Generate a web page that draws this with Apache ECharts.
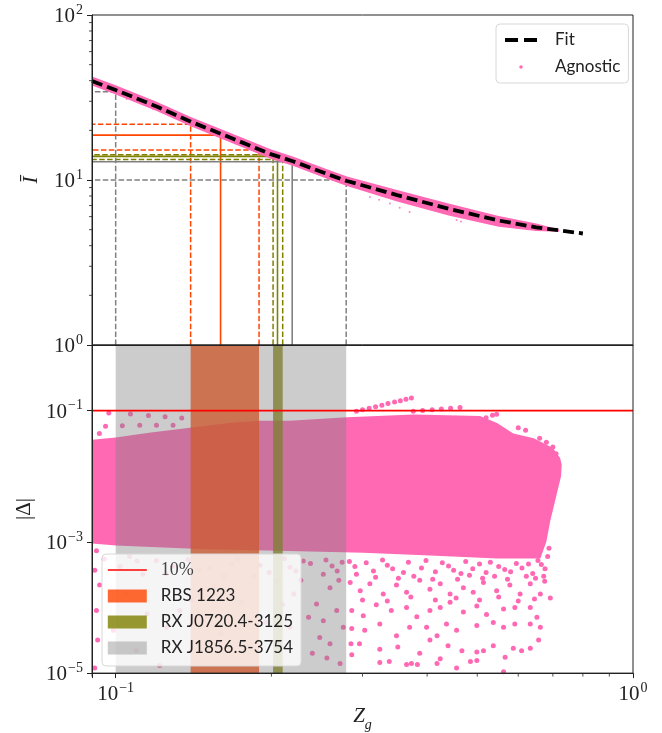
<!DOCTYPE html>
<html>
<head>
<meta charset="utf-8">
<script src="https://cdn.jsdelivr.net/npm/echarts@6/dist/echarts.min.js"></script>
<style>
  html, body { margin: 0; padding: 0; background: #fff; }
  #chart { width: 662px; height: 733px; }
</style>
</head>
<body>
<div id="chart"></div>
<script>
// Axis ranges
const zMin = 0.09, zMax = 1;
const iMin = 1, iMax = 100;
const dMin = 1e-5, dMax = 1;

// Fit curve (top panel)
const fitZ = [0.09, 0.1, 0.12, 0.14, 0.16, 0.2, 0.22, 0.26, 0.28, 0.35, 0.44, 0.55, 0.65, 0.72, 0.8];
const fitI = [39.8, 35.1, 27.9, 22.5, 19.0, 14.3, 13.0, 10.7, 9.86, 8.1, 6.7, 5.68, 5.17, 4.95, 4.74];

// Agnostic points around the fit (top panel): band edges + strays
const agnZ = [0.09, 0.1, 0.12, 0.14, 0.16, 0.2, 0.22, 0.26, 0.28, 0.35, 0.44, 0.55, 0.65, 0.72];
const agnUpper = [42.4, 37.5, 29.8, 24.0, 20.3, 15.3, 13.9, 11.4, 10.5, 8.7, 7.2, 6.05, 5.45, 5.02];
const agnLower = [37.4, 33.0, 26.2, 21.1, 17.8, 13.4, 12.2, 10.0, 9.2, 7.4, 6.1, 5.2, 4.9, 4.85];
const agnStray = [[0.105, 31.0], [0.118, 27.0], [0.31, 7.9], [0.323, 7.6], [0.339, 7.2], [0.354, 6.8],
  [0.37, 6.4], [0.456, 5.72], [0.465, 5.6]];

// Stars: [lower, central, upper] Zg and the matching I
const rbsZ = [0.1396, 0.1595, 0.1893];
const rbsI = [21.8, 18.7, 15.2];
const rx0720Z = [0.2015, 0.2055, 0.2103];
const rx0720I = [14.2, 13.9, 13.3];
const rx1856Z = [0.1, 0.2194, 0.279];
const rx1856I = [34.3, 12.9, 10.0];

// |Delta| cloud (bottom panel): dense outline + scattered points
const cloudTopZ = [0.0901, 0.1, 0.116, 0.139, 0.166, 0.19, 0.217, 0.28, 0.3765, 0.506, 0.546, 0.587, 0.643, 0.70, 0.723, 0.728];
const cloudTopD = [0.036, 0.039, 0.046, 0.055, 0.065, 0.07, 0.07, 0.079, 0.087, 0.083, 0.065, 0.045, 0.038, 0.027, 0.019, 0.015];
const cloudBottomZ = [0.726, 0.717, 0.706, 0.692, 0.68, 0.662, 0.546, 0.405, 0.301, 0.227, 0.145, 0.1, 0.0901];
const cloudBottomD = [0.01, 0.0067, 0.004, 0.0021, 0.001, 5.6e-4, 5.6e-4, 6.2e-4, 6.8e-4, 7.2e-4, 7.8e-4, 8.8e-4, 9.4e-4];
const cloudStray = [
  // above the dense part
  [0.097, 0.092], [0.0956, 0.058], [0.1068, 0.089], [0.1157, 0.084], [0.1246, 0.081], [0.1342, 0.077],
  [0.1113, 0.06], [0.1199, 0.06], [0.1291, 0.06], [0.103, 0.059], [0.093, 0.045],
  [0.292, 0.098], [0.3, 0.103], [0.309, 0.109], [0.318, 0.115], [0.327, 0.121], [0.336, 0.128],
  [0.346, 0.135], [0.355, 0.142], [0.364, 0.149], [0.373, 0.156],
  [0.376, 0.098], [0.392, 0.1], [0.409, 0.103], [0.426, 0.106], [0.444, 0.109], [0.463, 0.112],
  [0.52, 0.078], [0.535, 0.085], [0.545, 0.088], [0.6, 0.055], [0.62, 0.05], [0.66, 0.038],
  [0.68, 0.033], [0.7, 0.028], [0.71, 0.022],
  // ragged lower edge of the dense part
  [0.283, 5.0e-4], [0.292, 3.2e-4], [0.305, 4.8e-4], [0.318, 2.9e-4], [0.328, 5.3e-4], [0.343, 3.9e-4],
  [0.352, 2.8e-4], [0.368, 4.9e-4], [0.377, 3.0e-4], [0.398, 5.2e-4], [0.41, 2.7e-4], [0.428, 4.8e-4],
  [0.45, 3.7e-4], [0.458, 2.7e-4], [0.475, 5.0e-4], [0.483, 3.1e-4], [0.505, 4.6e-4], [0.512, 2.8e-4],
  [0.53, 4.9e-4], [0.54, 3.0e-4], [0.565, 3.8e-4], [0.572, 2.7e-4], [0.595, 4.7e-4], [0.622, 3.0e-4],
  [0.628, 4.6e-4], [0.648, 2.8e-4], [0.655, 5.2e-4], [0.676, 3.9e-4], [0.684, 6.0e-4], [0.688, 8.0e-4],
  [0.095, 5.5e-4], [0.102, 4.2e-4], [0.11, 5.1e-4], [0.125, 3.3e-4], [0.138, 5.4e-4], [0.152, 4.0e-4],
  [0.162, 3.0e-4], [0.172, 5.5e-4], [0.19, 4.4e-4], [0.198, 3.4e-4], [0.212, 5.6e-4], [0.223, 3.6e-4],
  [0.238, 4.7e-4], [0.255, 5.3e-4], [0.268, 3.6e-4], [0.274, 4.9e-4],
  [0.29, 4.2e-4], [0.315, 3.6e-4], [0.335, 4.4e-4], [0.36, 3.4e-4], [0.39, 4.0e-4], [0.415, 3.5e-4],
  [0.44, 4.3e-4], [0.465, 3.3e-4], [0.49, 3.9e-4], [0.52, 3.4e-4], [0.55, 4.2e-4], [0.58, 3.5e-4],
  [0.61, 4.0e-4], [0.64, 3.3e-4], [0.665, 4.5e-4], [0.672, 3.0e-4],
  // sparse tail
  [0.284, 2.4e-4], [0.297, 1.8e-4], [0.31, 2.3e-4], [0.329, 1.6e-4], [0.349, 2.2e-4], [0.365, 1.7e-4],
  [0.387, 2.6e-4], [0.405, 1.9e-4], [0.424, 2.3e-4], [0.443, 1.6e-4], [0.47, 2.0e-4], [0.491, 1.7e-4],
  [0.514, 2.4e-4], [0.545, 1.8e-4], [0.578, 2.2e-4], [0.605, 1.6e-4], [0.633, 2.3e-4], [0.662, 1.6e-4],
  [0.3, 1.3e-4], [0.335, 1.25e-4], [0.372, 1.45e-4], [0.415, 1.3e-4], [0.455, 1.4e-4], [0.505, 1.3e-4],
  [0.55, 1.45e-4], [0.6, 1.25e-4], [0.645, 1.35e-4], [0.675, 2.5e-4],
  [0.286, 9.0e-5], [0.301, 7.5e-5], [0.319, 1.1e-4], [0.341, 9.0e-5], [0.365, 1.0e-4], [0.382, 7.2e-5],
  [0.405, 9.0e-5], [0.424, 1.0e-4], [0.443, 1.2e-4], [0.47, 8.5e-5], [0.499, 1.05e-4], [0.521, 7.8e-5],
  [0.562, 9.5e-5], [0.591, 1.0e-4], [0.633, 1.0e-4], [0.652, 7.1e-5], [0.692, 1.4e-4],
  [0.286, 4.8e-5], [0.303, 4.5e-5], [0.324, 5.6e-5], [0.349, 3.7e-5], [0.37, 5.0e-5], [0.399, 5.0e-5],
  [0.418, 3.7e-5], [0.436, 5.6e-5], [0.456, 4.5e-5], [0.499, 5.3e-5], [0.537, 5.9e-5], [0.562, 5.0e-5],
  [0.591, 5.6e-5], [0.633, 5.6e-5], [0.662, 5.0e-5], [0.657, 3.2e-5],
  [0.285, 2.8e-5], [0.296, 2.8e-5], [0.324, 2.3e-5], [0.351, 2.5e-5], [0.387, 2.0e-5], [0.405, 3.2e-5],
  [0.439, 2.6e-5], [0.467, 2.2e-5], [0.499, 2.1e-5], [0.514, 2.2e-5], [0.537, 2.6e-5], [0.566, 1.75e-5],
  [0.587, 2.4e-5], [0.609, 2.2e-5], [0.633, 2.4e-5],
  [0.286, 1.9e-5], [0.324, 1.45e-5], [0.338, 1.5e-5], [0.365, 1.35e-5], [0.373, 1.4e-5], [0.383, 1.35e-5],
  [0.418, 1.4e-5], [0.424, 1.65e-5], [0.456, 1.2e-5], [0.485, 1.5e-5], [0.499, 1.55e-5], [0.562, 1.05e-5],
  // inside the gray band, right of the olive one
  [0.2172, 4.1e-4], [0.2304, 5.1e-4], [0.252, 3.2e-4], [0.2596, 2.0e-4], [0.2445, 1.13e-4], [0.236, 7.1e-5],
  [0.252, 6.3e-5], [0.2675, 9.0e-5], [0.2754, 5.0e-5], [0.248, 3.5e-5], [0.2596, 2.8e-5], [0.24, 2.0e-5],
  [0.256, 1.7e-5], [0.221, 1.6e-4], [0.2172, 5.0e-5], [0.2715, 1.4e-5], [0.262, 4.3e-4], [0.27, 2.6e-4],
  [0.228, 2.6e-4],
  // left part, mostly under the legend
  [0.0918, 7.3e-4], [0.0911, 3.7e-4], [0.0931, 2.2e-4], [0.0918, 9.0e-5], [0.0923, 3.2e-5], [0.0911, 1.2e-5],
  [0.1064, 6.0e-4], [0.1199, 5.2e-4], [0.1129, 3.2e-4], [0.129, 4.3e-4], [0.1049, 1.6e-4], [0.133, 9.0e-5],
  [0.1254, 5.0e-5], [0.1096, 2.2e-5], [0.1216, 1.3e-5], [0.145, 3.8e-4], [0.155, 2.1e-4], [0.168, 4.6e-4],
  [0.175, 1.2e-4], [0.185, 3.0e-4], [0.195, 6.0e-5], [0.16, 4.0e-5], [0.205, 2.5e-4], [0.21, 1.1e-4],
  [0.14, 1.3e-4], [0.178, 2.5e-5], [0.115, 8.0e-5], [0.099, 4.5e-5]
];
const tenPercent = 0.1;

// Minor log ticks (matplotlib style)
const minorZ = [0.09, 0.2, 0.3, 0.4, 0.5, 0.6, 0.7, 0.8, 0.9];
const minorI = [2, 3, 4, 5, 6, 7, 8, 9, 20, 30, 40, 50, 60, 70, 80, 90];

const pink = '#ff69b4';
const orange = '#ff4500', olive = '#808000', gray = '#808080';
const serif = "'Liberation Serif', 'DejaVu Serif', serif";
const sans = "Lato, 'DejaVu Sans', sans-serif";
const ink = '#222';

const chart = echarts.init(document.getElementById('chart'));

function powLabel(skipZero) {
  return function (v) {
    const e = Math.log10(v);
    const n = Math.round(e);
    if (Math.abs(e - n) > 1e-6) return '';
    if (skipZero && n === 0) return '';
    return '{b|10}{s|' + (n < 0 ? '\u2212' + (-n) : n) + '}';
  };
}
const powRich = {
  b: { fontFamily: serif, fontSize: 21, color: ink, lineHeight: 24, verticalAlign: 'bottom' },
  s: { fontFamily: serif, fontSize: 14, color: ink, lineHeight: 24, verticalAlign: 'top', padding: [0, 0, 0, 1] }
};

// polygon between two outlines, drawn once
function outlineItem(zA, yA, zB, yB) {
  return function (params, api) {
    if (params.dataIndex !== 0) return null;
    const pts = [];
    zA.forEach((z, i) => pts.push(api.coord([z, yA[i]])));
    zB.forEach((z, i) => pts.push(api.coord([z, yB[i]])));
    return { type: 'polygon', shape: { points: pts }, style: { fill: pink } };
  };
}

function bandSeries(name, zs, color, z) {
  return {
    name: name, type: 'custom', xAxisIndex: 1, yAxisIndex: 1, z: z, clip: true,
    itemStyle: { color: color },
    encode: { x: [0, 1], y: [2, 3] },
    data: [[zs[0], zs[2], dMin, dMax]],
    renderItem: function (params, api) {
      const lo = api.coord([api.value(0), api.value(2)]);
      const hi = api.coord([api.value(1), api.value(3)]);
      return { type: 'rect', shape: { x: lo[0], y: hi[1], width: hi[0] - lo[0], height: lo[1] - hi[1] },
        style: { fill: color } };
    }
  };
}

// L-shaped guide lines from the axes to the curve
const guideSeries = [];
[[rbsZ, rbsI, orange], [rx0720Z, rx0720I, olive], [rx1856Z, rx1856I, gray]].forEach(([zs, is, color]) => {
  zs.forEach((zv, k) => {
    guideSeries.push({
      type: 'line', xAxisIndex: 0, yAxisIndex: 0, symbol: 'none', z: 3,
      lineStyle: { color: color, width: k === 1 ? 1.6 : 1.5, type: k === 1 ? 'solid' : [5.5, 2.4] },
      data: [[zv, iMin], [zv, is[k]], [zMin, is[k]]]
    });
  });
});

const option = {
  animation: false,
  grid: [
    { left: 92, right: 29, top: 15, height: 330, show: true, borderColor: ink, borderWidth: 1, z: 10 },
    { left: 92, right: 29, top: 345, height: 329, show: true, borderColor: ink, borderWidth: 1, z: 10 }
  ],
  xAxis: [
    { type: 'log', gridIndex: 0, min: zMin, max: zMax, z: 10,
      axisLine: { show: true, lineStyle: { color: ink } }, axisTick: { show: false },
      axisLabel: { show: false }, splitLine: { show: false } },
    { type: 'log', gridIndex: 1, min: zMin, max: zMax, z: 10,
      axisLine: { show: true, lineStyle: { color: ink } },
      axisTick: { length: 5, lineStyle: { color: ink } },
      axisLabel: { formatter: powLabel(false), rich: powRich, margin: 8 },
      splitLine: { show: false },
      name: '{z|Z}{g|g}', nameLocation: 'middle', nameGap: 32,
      nameTextStyle: { rich: {
        z: { fontFamily: serif, fontStyle: 'italic', fontSize: 21, color: ink, lineHeight: 26, verticalAlign: 'top' },
        g: { fontFamily: serif, fontStyle: 'italic', fontSize: 14, color: ink, lineHeight: 26, verticalAlign: 'bottom' }
      } } }
  ],
  yAxis: [
    { type: 'log', gridIndex: 0, min: iMin, max: iMax, z: 10,
      axisLine: { show: true, lineStyle: { color: ink } },
      axisTick: { length: 5, lineStyle: { color: ink } },
      axisLabel: { formatter: powLabel(false), rich: powRich, margin: 9 },
      splitLine: { show: false },
      name: '\u012A', nameLocation: 'middle', nameGap: 50, nameRotate: 90,
      nameTextStyle: { fontFamily: serif, fontStyle: 'italic', fontSize: 21, color: ink } },
    { type: 'log', gridIndex: 1, min: dMin, max: dMax, interval: 2, z: 10,
      axisLine: { show: true, lineStyle: { color: ink } },
      axisTick: { length: 5, lineStyle: { color: ink } },
      axisLabel: { formatter: powLabel(true), rich: powRich, margin: 9 },
      splitLine: { show: false },
      name: '|\u0394|', nameLocation: 'middle', nameGap: 54, nameRotate: 90,
      nameTextStyle: { fontFamily: serif, fontSize: 21, color: ink } }
  ],
  legend: [
    { z: 20, orient: 'vertical', left: 496, top: 24, padding: [6, 8, 6, 7],
      itemWidth: 32, itemHeight: 3.5, itemGap: 7,
      backgroundColor: 'rgba(255,255,255,0.8)', borderColor: '#d8d8d8', borderWidth: 1, borderRadius: 4,
      textStyle: { fontFamily: sans, fontSize: 17, color: ink, lineHeight: 20, padding: [0, 0, 0, 13] },
      data: [
        { name: 'Fit', itemStyle: { opacity: 0 }, lineStyle: { color: '#000', width: 4, type: [13, 6] } },
        { name: 'Agnostic', icon: 'circle', itemStyle: { color: pink } }
      ] },
    { z: 20, orient: 'vertical', left: 102, top: 554, padding: [6, 8, 8, 5],
      itemWidth: 39, itemHeight: 13, itemGap: 6,
      backgroundColor: 'rgba(255,255,255,0.8)', borderColor: '#d8d8d8', borderWidth: 1, borderRadius: 4,
      textStyle: { fontFamily: sans, fontSize: 17, color: ink, lineHeight: 20, padding: [0, 0, 0, 9],
        rich: { serif: { fontFamily: serif, fontSize: 18, color: '#444', lineHeight: 20 } } },
      formatter: name => name === '10%' ? '{serif|10%}' : name,
      data: [
        { name: '10%', itemStyle: { opacity: 0 }, lineStyle: { color: '#ff0000', width: 1.6 } },
        { name: 'RBS 1223', icon: 'rect' },
        { name: 'RX J0720.4-3125', icon: 'rect' },
        { name: 'RX J1856.5-3754', icon: 'rect' }
      ] }
  ],
  series: [
    // top panel
    { name: 'Agnostic', type: 'custom', xAxisIndex: 0, yAxisIndex: 0, z: 4, clip: true,
      itemStyle: { color: pink }, encode: { x: 0, y: 1 },
      data: [[agnZ[0], agnUpper[0]]],
      renderItem: outlineItem(agnZ, agnUpper, agnZ.slice().reverse(), agnLower.slice().reverse()) },
    { name: 'Agnostic', type: 'scatter', xAxisIndex: 0, yAxisIndex: 0, z: 4,
      symbolSize: 2, itemStyle: { color: pink }, data: agnStray },
    ...guideSeries,
    { name: 'Fit', type: 'line', xAxisIndex: 0, yAxisIndex: 0, z: 6, symbol: 'none', showSymbol: false,
      itemStyle: { color: '#000' },
      lineStyle: { color: '#000', width: 3.8, type: [11, 5] },
      data: fitZ.map((z, i) => [z, fitI[i]]) },
    { type: 'custom', xAxisIndex: 0, yAxisIndex: 0, z: 10, clip: false,
      encode: { x: 0, y: 1 }, data: minorI.map(v => [zMin, v]),
      renderItem: function (params, api) {
        const p = api.coord([api.value(0), api.value(1)]);
        return { type: 'line', shape: { x1: p[0] - 3, y1: p[1], x2: p[0], y2: p[1] }, style: { stroke: ink, lineWidth: 0.8 } };
      } },

    // bottom panel
    { name: 'cloud', type: 'custom', xAxisIndex: 1, yAxisIndex: 1, z: 1, clip: true,
      encode: { x: 0, y: 1 }, data: [[cloudTopZ[0], cloudTopD[0]]],
      renderItem: outlineItem(cloudTopZ, cloudTopD, cloudBottomZ, cloudBottomD) },
    { name: 'cloud', type: 'scatter', xAxisIndex: 1, yAxisIndex: 1, z: 1,
      symbolSize: 5, itemStyle: { color: pink, opacity: 1 }, data: cloudStray },
    bandSeries('RBS 1223', rbsZ, 'rgba(255,69,0,0.8)', 2),
    bandSeries('RX J0720.4-3125', rx0720Z, 'rgba(128,128,0,0.8)', 3),
    bandSeries('RX J1856.5-3754', rx1856Z, 'rgba(128,128,128,0.4)', 4),
    { name: '10%', type: 'line', xAxisIndex: 1, yAxisIndex: 1, z: 5, symbol: 'none', showSymbol: false,
      itemStyle: { color: '#ff0000' },
      lineStyle: { color: '#ff0000', width: 1.6 },
      data: [[zMin, tenPercent], [zMax, tenPercent]] },
    { type: 'custom', xAxisIndex: 1, yAxisIndex: 1, z: 10, clip: false,
      encode: { x: 0, y: 1 }, data: minorZ.map(v => [v, dMin]),
      renderItem: function (params, api) {
        const p = api.coord([api.value(0), api.value(1)]);
        return { type: 'line', shape: { x1: p[0], y1: p[1], x2: p[0], y2: p[1] + 3.5 }, style: { stroke: ink, lineWidth: 0.8 } };
      } }
  ]
};

chart.setOption(option);
</script>
</body>
</html>
